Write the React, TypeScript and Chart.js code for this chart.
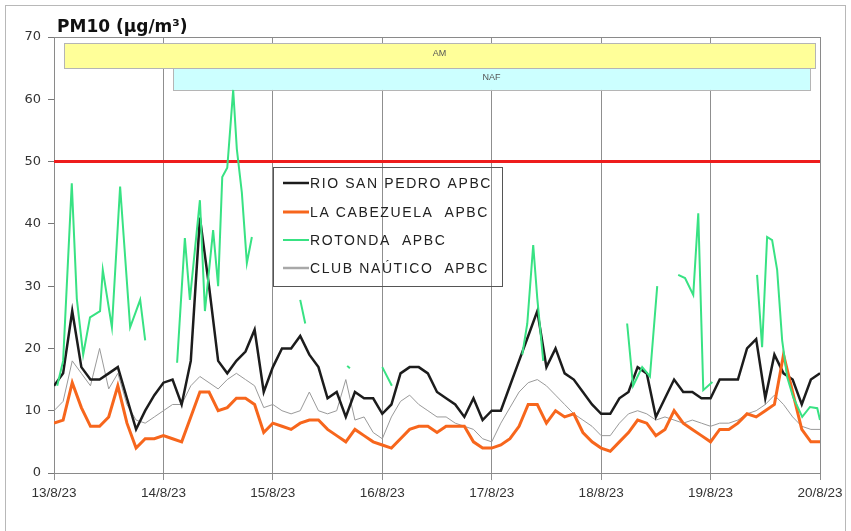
import React, { useEffect, useRef } from 'react';
import { Chart, registerables } from 'chart.js';

Chart.register(...registerables);

// Day tick labels (x axis is in hours from 13/8/23 00:00)
const dayLabels = ['13/8/23', '14/8/23', '15/8/23', '16/8/23', '17/8/23', '18/8/23', '19/8/23', '20/8/23'];

// 2-hourly time grid (hours)
const hours2h = Array.from({ length: 85 }, (_, i) => i * 2);

const rioSanPedro = [
  14, 16, 26, 17, 15, 15, 16, 17, 12, 7, 10, 12.5, 14.5,
  15, 11, 18, 41, 30, 18, 16, 18, 19.5, 23, 13, 17,
  20, 20, 22, 19, 17, 12, 13, 9, 13, 12, 12, 9.5,
  11, 16, 17, 17, 16, 13, 12, 11, 9, 12, 8.5, 10,
  10, 14, 18, 22, 26, 17, 20, 16, 15, 13, 11, 9.5,
  9.5, 12, 13, 17, 16, 9, 12, 15, 13, 13, 12, 12,
  15, 15, 15, 20, 21.5, 12, 19, 16, 15, 11, 15, 16,
];

const laCabezuela = [
  8, 8.5, 14.5, 10.5, 7.5, 7.5, 9, 14, 8, 4, 5.5, 5.5, 6,
  5.5, 5, 9, 13, 13, 10, 10.5, 12, 12, 11, 6.5, 8,
  7.5, 7, 8, 8.5, 8.5, 7, 6, 5, 7, 6, 5, 4.5,
  4, 5.5, 7, 7.5, 7.5, 6.5, 7.5, 7.5, 7.5, 5, 4, 4,
  4.5, 5.5, 7.5, 11, 11, 8, 10, 9, 9.5, 6.5, 5, 4,
  3.5, 5, 6.5, 8.5, 8, 6, 7, 10, 8, 7, 6, 5,
  7, 7, 8, 9.5, 9, 10, 11, 19, 13, 7, 5, 5,
];

const clubNautico = [
  10, 11.5, 18, 16, 14, 20, 13.5, 16, 11, 8.5, 8, 9, 10,
  11, 11, 14, 15.5, 14.5, 13.5, 15, 16, 15, 14, 10.5, 11,
  10, 9.5, 10, 13, 10, 9.5, 10, 15, 8.5, 9, 6.5, 5.5,
  9, 11.5, 12.5, 11, 10, 9, 9, 8, 7.5, 7, 5.5, 5,
  8, 10.5, 13, 14.5, 15, 14, 12.5, 11, 9.5, 8.5, 7.5, 6,
  6, 8, 9.5, 10, 9.5, 8.5, 9, 8.5, 8, 8.5, 8, 7.5,
  8, 8, 8.5, 9.5, 10, 11, 12.5, 11, 9, 7.5, 7, 7,
];

// ROTONDA has gaps (null)
const rotondaHours = [
  0.7, 2.0, 3.9, 5.0, 6.4, 7.9, 10.1, 10.7, 12.7, 14.5,
  16.7, 18.9, 20.0, 22,
  27.0, 28.7, 29.8, 32.0, 33.1, 34.9, 36.0, 36.9, 38.0, 39.3,
  40.1, 41.2, 42.3, 43.4, 45,
  54.0, 55.1, 57,
  64.3, 64.9, 66,
  72.0, 74.1, 76,
  102.7, 103.8, 105.1, 106.0, 107.3, 108,
  125.7, 127.0, 129.0, 130.7, 132.3, 133,
  136.9, 138.4, 140.2, 141.3, 142.4, 144.4, 146,
  154.2, 155.3, 156.4, 157.5, 158.6, 159.7, 160.8, 162.1, 164.1, 165.8, 167.4, 168,
];
const rotondaValues = [
  14, 18, 46.5, 28, 19, 25, 26, 32.6, 23.4, 46,
  23.4, 27.8, 21.3, null,
  17.7, 37.7, 27.8, 43.8, 26, 39, 30, 47.5, 49, 61.5,
  52, 45, 33.7, 37.9, null,
  27.8, 24, null,
  17.2, 16.8, null,
  17, 14, null,
  19, 24, 36.6, 28, 18, null,
  24, 14, 17, 15.5, 30, null,
  31.8, 31.3, 28.6, 41.7, 13.3, 14.6, null,
  31.8, 20.2, 37.9, 37.4, 32.6, 21.3, 15.4, 12.2, 9, 10.6, 10.4, 8.5,
];

const limitValue = 50;

// Episode bars (AM / NAF)
const episodeLabels = ['AM', 'NAF'];
const episodeStart = [2.2, 26.1];
const episodeEnd = [166.9, 165.8];
const episodeLow = [65, 61.5];
const episodeHigh = [69, 65];
const episodeColors = ['#ffff99', '#ccffff'];

const seriesNames = ['RIO SAN PEDRO APBC', 'LA CABEZUELA  APBC', 'ROTONDA  APBC', 'CLUB NAÚTICO  APBC'];
const seriesColors = ['#1c1c1c', '#f7661c', '#38e283', '#9a9a9a'];

export default function App() {
  const ref = useRef<HTMLCanvasElement>(null);

  useEffect(() => {
    document.body.style.margin = '0';
    const canvas = ref.current!;

    const decor = {
      id: 'decor',
      beforeDraw(chart: any) {
        const c = chart.ctx;
        c.save();
        c.fillStyle = '#ffffff';
        c.fillRect(0, 0, chart.width, chart.height);
        c.strokeStyle = '#b8b8b8';
        c.lineWidth = 1;
        c.strokeRect(5.5, 5.5, 840, 540);
        c.fillStyle = '#111';
        c.font = 'bold 17px "DejaVu Sans", sans-serif';
        c.textBaseline = 'alphabetic';
        c.textAlign = 'left';
        c.fillText('PM10 (µg/m³)', 57, 32);
        c.restore();
      },
      beforeDatasetsDraw(chart: any) {
        const c = chart.ctx;
        const xs = chart.scales.x;
        const ys = chart.scales.y;
        const a = chart.chartArea;
        c.save();
        c.strokeStyle = '#8a8a8a';
        c.lineWidth = 1;
        c.strokeRect(a.left + 0.5, a.top + 0.5, a.right - a.left, a.bottom - a.top);
        for (let i = 0; i < episodeLabels.length; i++) {
          const x0 = xs.getPixelForValue(episodeStart[i]);
          const x1 = xs.getPixelForValue(episodeEnd[i]);
          const y0 = ys.getPixelForValue(episodeHigh[i]);
          const y1 = ys.getPixelForValue(episodeLow[i]);
          c.fillStyle = episodeColors[i];
          c.fillRect(x0, y0, x1 - x0, y1 - y0);
          c.strokeStyle = '#b5b5b5';
          c.strokeRect(Math.round(x0) + 0.5, Math.round(y0) + 0.5, Math.round(x1 - x0), Math.round(y1 - y0));
          c.fillStyle = '#555';
          c.font = '9px "Liberation Sans", Arial, sans-serif';
          c.textAlign = 'center';
          c.textBaseline = 'middle';
          c.fillText(episodeLabels[i], (x0 + x1) / 2, (y0 + y1) / 2 - 2);
        }
        c.restore();
      },
      afterDatasetsDraw(chart: any) {
        const c = chart.ctx;
        c.save();
        c.strokeStyle = '#555';
        c.lineWidth = 1;
        c.strokeRect(273.5, 167.5, 229, 119);
        const rows = [183, 212, 240, 268];
        const widths = [2.5, 3, 2, 2.5];
        const sampleColors = ['#1c1c1c', '#f7661c', '#38e283', '#a8a8a8'];
        c.font = '14px "Liberation Sans", Arial, sans-serif';
        c.textAlign = 'left';
        c.textBaseline = 'middle';
        (c as any).letterSpacing = '1.6px';
        for (let i = 0; i < seriesNames.length; i++) {
          c.strokeStyle = sampleColors[i];
          c.lineWidth = widths[i];
          c.beginPath();
          c.moveTo(283, rows[i]);
          c.lineTo(309, rows[i]);
          c.stroke();
          c.fillStyle = '#222';
          c.fillText(seriesNames[i], 310, rows[i] + 1);
        }
        (c as any).letterSpacing = '0px';
        c.restore();
      },
    };

    const chart = new Chart(canvas, {
      type: 'line',
      data: {
        datasets: [
          {
            label: seriesNames[2],
            data: rotondaHours.map((h, i) => ({ x: h, y: rotondaValues[i] })),
            borderColor: seriesColors[2],
            borderWidth: 2,
            spanGaps: false,
            order: 0,
          },
          {
            label: seriesNames[1],
            data: hours2h.map((h, i) => ({ x: h, y: laCabezuela[i] })),
            borderColor: seriesColors[1],
            borderWidth: 3,
            order: 1,
          },
          {
            label: seriesNames[0],
            data: hours2h.map((h, i) => ({ x: h, y: rioSanPedro[i] })),
            borderColor: seriesColors[0],
            borderWidth: 2.5,
            order: 2,
          },
          {
            label: seriesNames[3],
            data: hours2h.map((h, i) => ({ x: h, y: clubNautico[i] })),
            borderColor: seriesColors[3],
            borderWidth: 1,
            order: 3,
          },
          {
            label: 'Límite',
            data: [
              { x: 0, y: limitValue },
              { x: 168, y: limitValue },
            ],
            borderColor: '#ee1c1c',
            borderWidth: 3,
            order: 4,
          },
        ] as any,
      },
      options: {
        animation: false,
        responsive: false,
        layout: { padding: { top: 37, right: 31, left: 0, bottom: 0 } },
        elements: { point: { radius: 0 }, line: { tension: 0 } },
        plugins: {
          legend: { display: false },
          tooltip: { enabled: false },
          title: { display: false },
        },
        scales: {
          x: {
            type: 'linear',
            min: 0,
            max: 168,
            afterBuildTicks: (s: any) => {
              s.ticks = dayLabels.map((_, i) => ({ value: i * 24 }));
            },
            afterFit: (s: any) => {
              s.height = 58;
            },
            ticks: {
              autoSkip: false,
              maxRotation: 0,
              padding: 5,
              color: '#333',
              font: { family: '"Liberation Sans", Arial, sans-serif', size: 13.5 },
              callback: (v: any) => dayLabels[Math.round(Number(v) / 24)],
            },
            grid: { color: '#8f8f8f', lineWidth: 1, tickLength: 7 },
            border: { color: '#777' },
          },
          y: {
            min: 0,
            max: 70,
            afterFit: (s: any) => {
              s.width = 54;
            },
            ticks: {
              stepSize: 10,
              padding: 7,
              color: '#333',
              font: { family: '"DejaVu Sans", sans-serif', size: 13 },
            },
            grid: { drawOnChartArea: false, tickLength: 6, color: '#777' },
            border: { color: '#777' },
          },
        },
      } as any,
      plugins: [decor],
    });

    return () => chart.destroy();
  }, []);

  return <canvas ref={ref} width={851} height={531} style={{ display: 'block' }} />;
}
